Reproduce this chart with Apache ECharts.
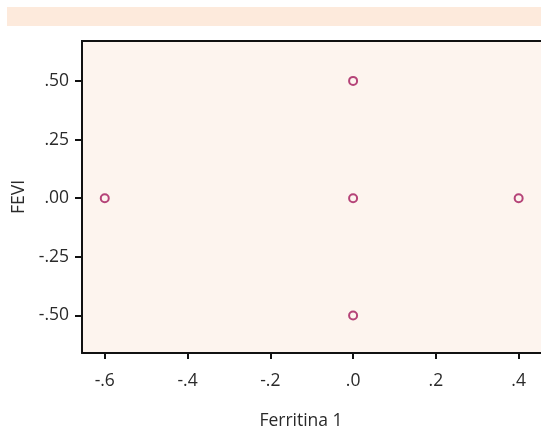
<!DOCTYPE html>
<html>
<head>
<meta charset="utf-8">
<script src="https://cdn.jsdelivr.net/npm/echarts@6/dist/echarts.min.js"></script>
<style>
  html, body { margin: 0; padding: 0; background: #fff; }
  #chart { width: 541px; height: 433px; }
</style>
</head>
<body>
<div id="chart"></div>
<script>
// data
const ferritina = [-0.6, 0.0, 0.0, 0.0, 0.4];
const fevi = [0.0, 0.5, 0.0, -0.5, 0.0];
const xTicks = [-0.6, -0.4, -0.2, 0.0, 0.2, 0.4];
const yTicks = [-0.5, -0.25, 0.0, 0.25, 0.5];

const points = ferritina.map((x, i) => [x, fevi[i]]);

// SPSS style labels: drop the leading zero
const fmt = (digits) => (v) => {
    let s = Math.abs(v).toFixed(digits).replace(/^0/, '');
    return (v < -1e-9 ? '-' : '') + s;
};

const chart = echarts.init(document.getElementById('chart'));

const labelFont = {
    fontFamily: 'Open Sans',
    fontSize: 17.5,
    color: '#2a2a2a'
};

const option = {
    animation: false,
    grid: {
        left: 82,
        right: 0,
        top: 41,
        bottom: 80,
        show: true,
        backgroundColor: '#fdf4ee',
        borderWidth: 0
    },
    graphic: [
        {
            type: 'rect',
            left: 7,
            top: 7,
            shape: { width: 534, height: 19 },
            style: { fill: '#fdeadc' },
            z: 0
        },
        {
            // top border of the plot
            type: 'rect',
            left: 81,
            top: 40,
            shape: { width: 460, height: 2 },
            style: { fill: '#111' },
            z: 10
        },
        {
            type: 'text',
            x: 301,
            y: 421,
            style: {
                text: 'Ferritina 1',
                fontFamily: 'Open Sans',
                fontSize: 17.5,
                fill: '#2a2a2a',
                align: 'center',
                verticalAlign: 'middle'
            }
        }
    ],
    xAxis: {
        type: 'value',
        min: -0.655,
        max: 0.454,
        splitLine: { show: false },
        axisLine: { show: true, onZero: false, lineStyle: { color: '#111', width: 2 } },
        axisTick: {
            show: true,
            length: 6,
            customValues: xTicks,
            lineStyle: { color: '#111', width: 2 }
        },
        axisLabel: {
            ...labelFont,
            margin: 19,
            customValues: xTicks,
            formatter: fmt(1)
        }
    },
    yAxis: {
        type: 'value',
        min: -0.66,
        max: 0.67,
        name: 'FEVI',
        nameLocation: 'middle',
        nameGap: 54,
        nameTextStyle: { ...labelFont },
        splitLine: { show: false },
        axisLine: { show: true, onZero: false, lineStyle: { color: '#111', width: 2 } },
        axisTick: {
            show: true,
            length: 7,
            customValues: yTicks,
            lineStyle: { color: '#111', width: 2 }
        },
        axisLabel: {
            ...labelFont,
            margin: 13,
            customValues: yTicks,
            formatter: fmt(2)
        }
    },
    series: [
        {
            type: 'scatter',
            data: points,
            symbol: 'circle',
            symbolSize: 8,
            itemStyle: {
                color: 'transparent',
                borderColor: '#a3175a',
                borderWidth: 2
            }
        }
    ]
};

chart.setOption(option);
</script>
</body>
</html>
